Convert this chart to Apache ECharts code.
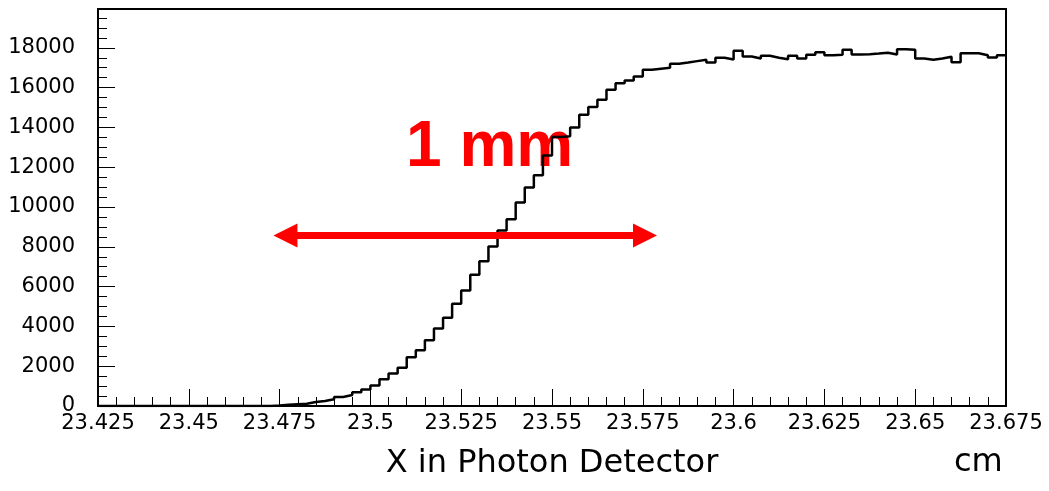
<!DOCTYPE html>
<html>
<head>
<meta charset="UTF-8">
<title>X in Photon Detector</title>
<script src="https://cdn.jsdelivr.net/npm/echarts@6/dist/echarts.min.js"></script>
<style>
  html, body { margin: 0; padding: 0; background: #fff; }
  #chart { width: 1049px; height: 491px; }
</style>
</head>
<body>
<div id="chart"></div>
<script>
// histogram binning (100 bins of 0.0025 cm)
var binLow = 23.425;
var binWidth = 0.0025;
// bin contents
var counts = [
  0, 0, 0, 0, 0, 0, 0, 0, 0, 0,
  0, 0, 0, 0, 0, 0, 0, 0, 0, 20,
  60, 90, 110, 200, 250, 340, 450, 550, 690, 830,
  1030, 1340, 1630, 1920, 2450, 2800, 3300, 3890, 4440, 5140,
  5810, 6590, 7270, 8020, 8820, 9380, 10230, 10980, 11590, 12590,
  13520, 13550, 14000, 14640, 15020, 15390, 15890, 16220, 16360, 16560,
  16900, 16950, 17000, 17200, 17260, 17330, 17400, 17260, 17500, 17410,
  17850, 17560, 17460, 17600, 17500, 17430, 17600, 17460, 17650, 17780,
  17630, 17650, 17900, 17660, 17680, 17710, 17750, 17660, 17930, 17900,
  17460, 17400, 17460, 17550, 17280, 17730, 17730, 17630, 17510, 17630
];
// axis ranges / tick steps
var xRange = [23.425, 23.675];
var xStep = 0.025;
var yRange = [0, 19950];
var yStep = 2000;
// the "1 mm" arrow: ends in cm, height in counts
var arrowX = [23.4766, 23.5756];
var arrowY = 8570;

var steps = counts.map(function (c, i) {
  return [+(binLow + i * binWidth).toFixed(4), c];
});
steps.push([+(binLow + counts.length * binWidth).toFixed(4), counts[counts.length - 1]]);

var font = 'DejaVu Sans';
var chart = echarts.init(document.getElementById('chart'));

var option = {
  animation: false,
  backgroundColor: '#fff',
  grid: {
    left: 98, right: 43, top: 9, bottom: 85,
    show: true, borderColor: '#000', borderWidth: 2
  },
  xAxis: {
    type: 'value',
    min: xRange[0], max: xRange[1], interval: xStep,
    name: 'X in Photon Detector',
    nameLocation: 'middle',
    nameGap: 42,
    nameTextStyle: { fontFamily: font, fontSize: 32, color: '#000' },
    axisLine: { show: true, lineStyle: { color: '#000', width: 2 } },
    axisTick: { show: true, inside: true, length: 17, lineStyle: { color: '#000' } },
    minorTick: { show: true, splitNumber: 5, length: 9, lineStyle: { color: '#000' } },
    axisLabel: {
      fontFamily: font, fontSize: 21, color: '#000', margin: 7,
      formatter: function (v) { return String(+v.toFixed(3)); }
    },
    splitLine: { show: false }
  },
  yAxis: {
    type: 'value',
    min: yRange[0], max: yRange[1], interval: yStep,
    axisLine: { show: true, lineStyle: { color: '#000', width: 2 } },
    axisTick: { show: true, inside: true, length: 17, lineStyle: { color: '#000' } },
    minorTick: { show: true, splitNumber: 4, length: 9, lineStyle: { color: '#000' } },
    axisLabel: {
      fontFamily: font, fontSize: 21, color: '#000', margin: 23,
      showMaxLabel: false,
      formatter: function (v) { return String(v); }
    },
    splitLine: { show: false }
  },
  series: [{
    type: 'line',
    step: 'end',
    data: steps,
    symbol: 'none',
    lineStyle: { color: '#000', width: 2.5 },
    markLine: {
      silent: true,
      symbol: ['triangle', 'triangle'],
      symbolSize: [24, 24],
      label: { show: false },
      lineStyle: { color: '#ff0000', width: 7, type: 'solid' },
      data: [[{ coord: [arrowX[0], arrowY] }, { coord: [arrowX[1], arrowY] }]]
    }
  }],
  graphic: [
    {
      type: 'text', left: 406, top: 116,
      style: {
        text: '1 mm', fontFamily: 'Liberation Sans', fontWeight: 'bold',
        fontSize: 64, fill: '#ff0000'
      }
    },
    {
      type: 'text', left: 954, top: 447,
      style: { text: 'cm', fontFamily: font, fontSize: 32, fill: '#000' }
    }
  ]
};
chart.setOption(option);
</script>
</body>
</html>
